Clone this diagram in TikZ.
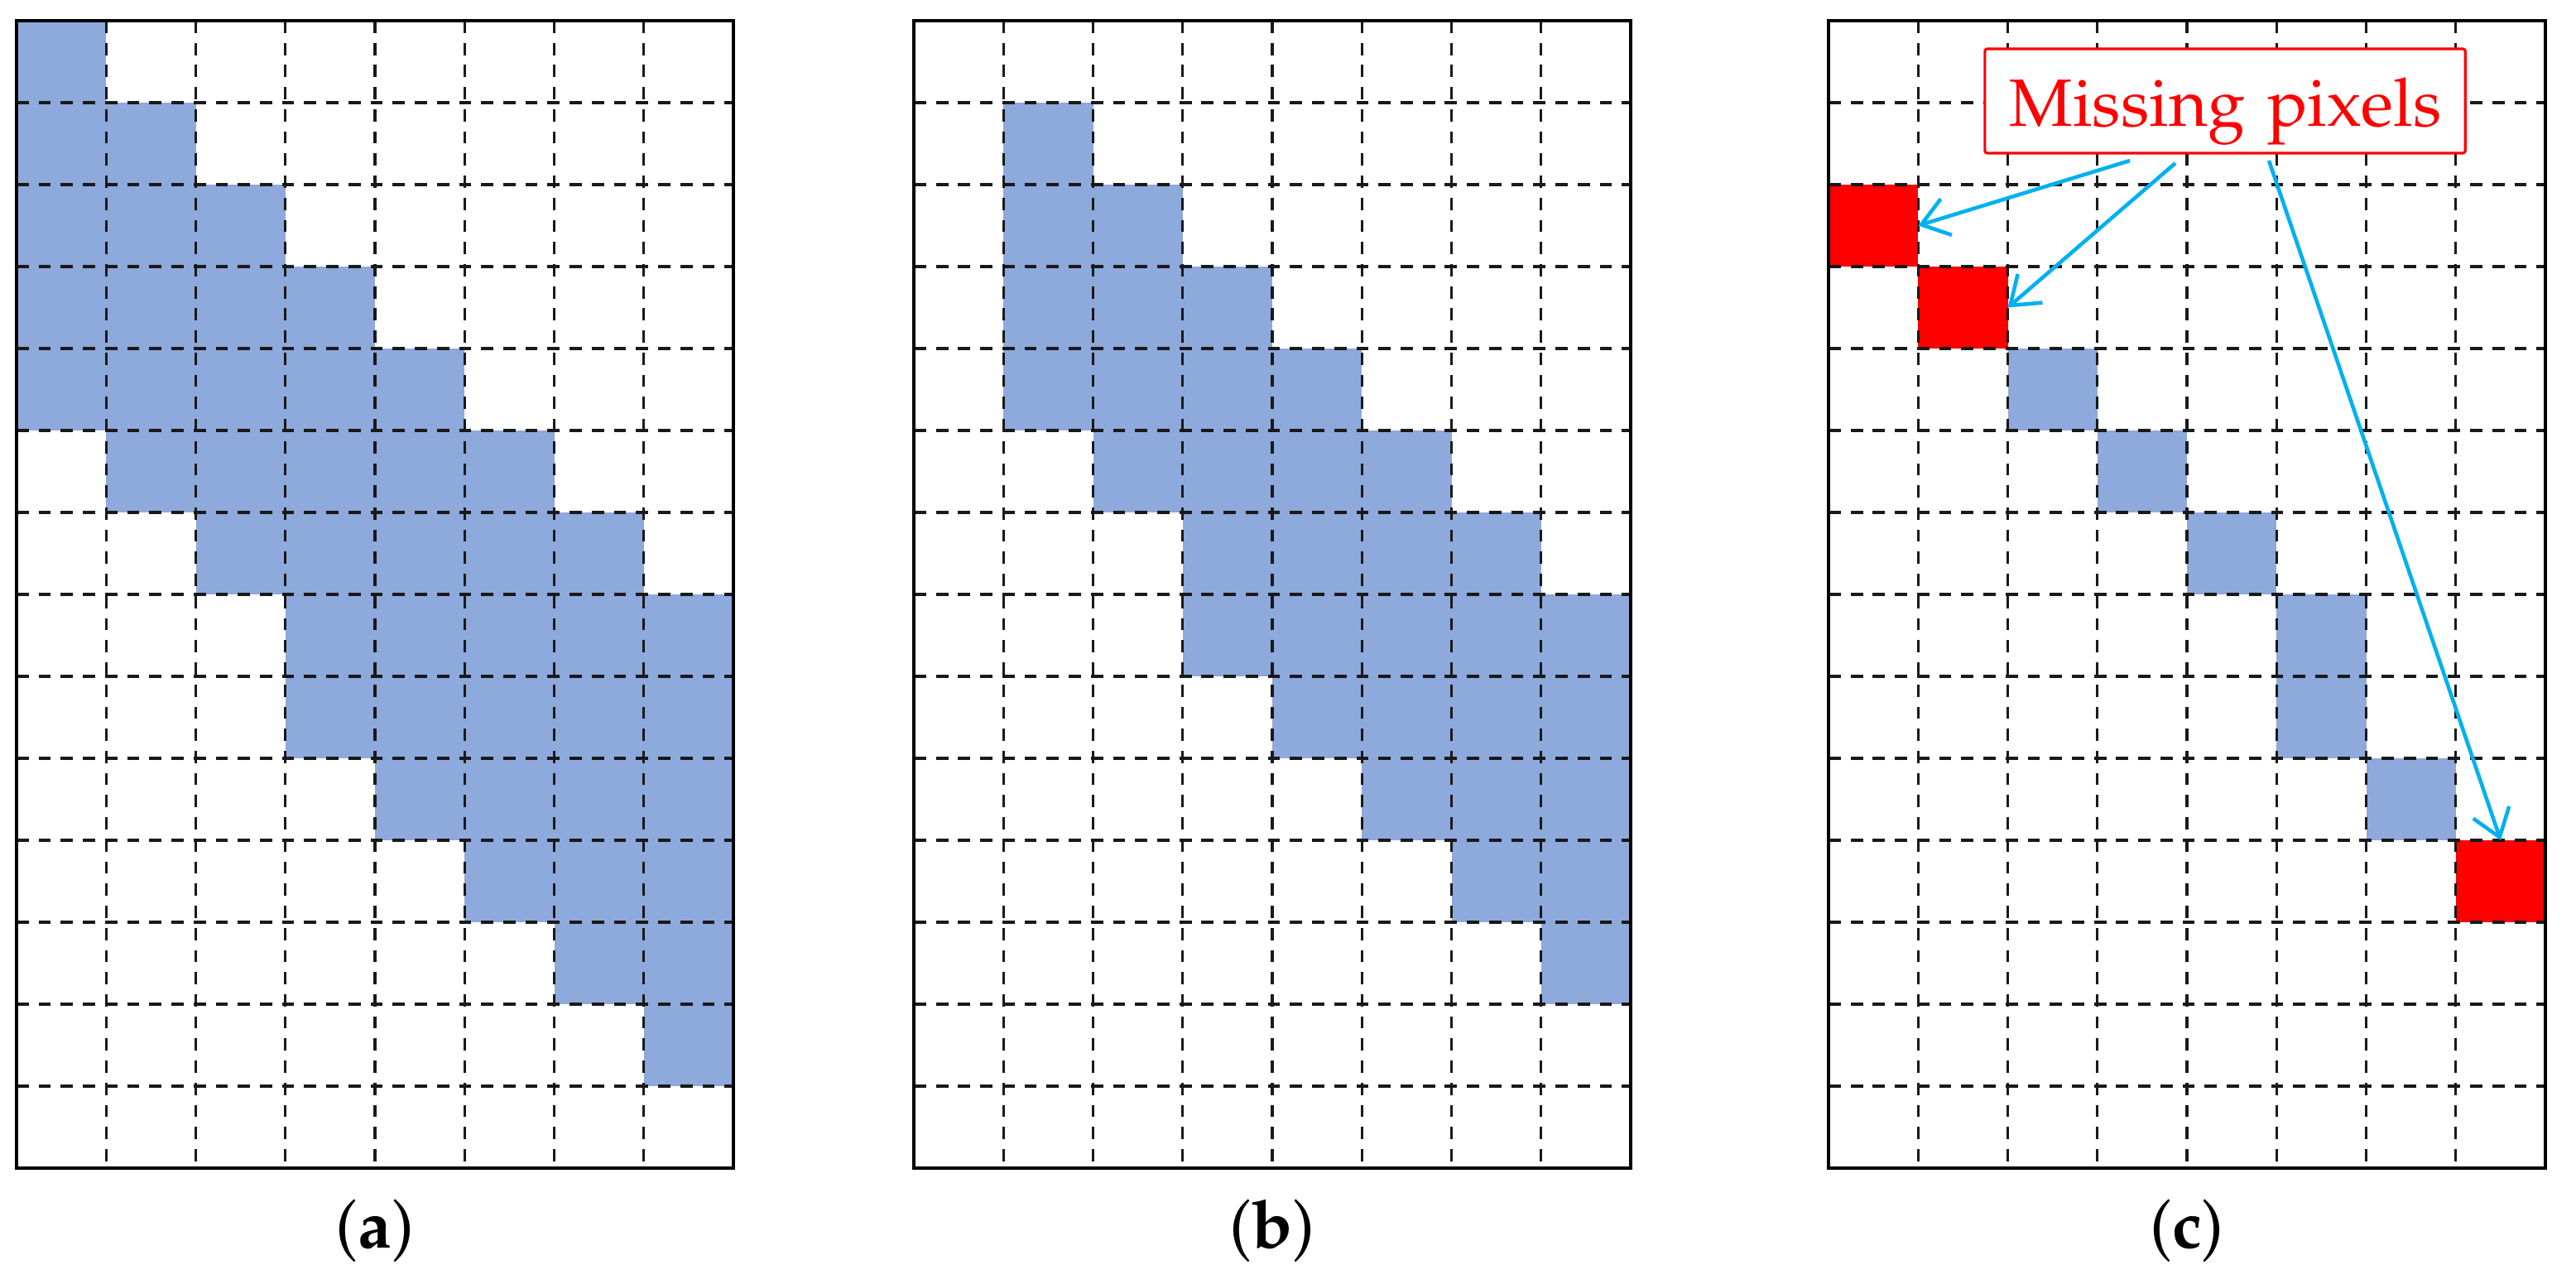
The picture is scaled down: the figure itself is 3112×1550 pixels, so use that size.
\documentclass[tikz,border=0pt]{standalone}
\usepackage[T1]{fontenc}
\usepackage{mathpazo}
\usetikzlibrary{arrows.meta}
\definecolor{cellblue}{RGB}{142,169,219}
\definecolor{cellred}{RGB}{255,0,0}
\definecolor{arrowcyan}{RGB}{0,176,240}
\tikzset{
  gridline/.style={line width=0.95pt, black!90, dash pattern=on 4.2pt off 3.4pt},
  gridborder/.style={line width=1.15pt, black},
  bluecell/.style={fill=cellblue},
  redcell/.style={fill=cellred, draw=none, inner sep=0pt, outer sep=0pt,
    minimum width=1.0825cm, minimum height=0.99cm},
  lblbox/.style={draw=red, fill=white, line width=0.9pt, rounded corners=0.8pt,
    text=red, inner xsep=0.3cm, inner ysep=0pt, text width=5.2cm, align=left,
    text height=26.7pt, text depth=9.1pt, font=\fontsize{23}{28}\selectfont},
  missarrow/.style={arrowcyan, line width=1.3pt, -{Straight Barb[length=9pt,width=13pt]}},
  sublabel/.style={font=\fontsize{23}{28}\selectfont, inner sep=0pt}
}
\newcommand\pixgrid[1]{%
  \foreach \i in {1,...,7} {\draw[gridline] ({#1+\i*108.25},25) -- ({#1+\i*108.25},1411);}
  \foreach \j in {1,...,13} {\draw[gridline] (#1,{25+\j*99}) -- ({#1+866},{25+\j*99});}
  \draw[gridborder] (#1,25) rectangle ({#1+866},1411);
}
\newcommand\rowfill[4]{\fill[bluecell] ({#1+#3*108.25},{25+#2*99}) rectangle ({#1+(#4+1)*108.25},{25+(#2+1)*99});}
\begin{document}
\begin{tikzpicture}[x=0.01cm, y=-0.01cm]
\useasboundingbox (0,0) rectangle (3112,1550);
% (a)
\foreach \r/\a/\b in {0/0/0,1/0/1,2/0/2,3/0/3,4/0/4,5/1/5,6/2/6,7/3/7,8/3/7,9/4/7,10/5/7,11/6/7,12/7/7}
  {\rowfill{20}{\r}{\a}{\b}}
\pixgrid{20}
% (b)
\foreach \r/\a/\b in {1/1/1,2/1/2,3/1/3,4/1/4,5/2/5,6/3/6,7/3/7,8/4/7,9/5/7,10/6/7,11/7/7}
  {\rowfill{1104}{\r}{\a}{\b}}
\pixgrid{1104}
% (c)
\foreach \r/\a/\b in {4/2/2,5/3/3,6/4/4,7/5/5,8/5/5,9/6/6}
  {\rowfill{2209}{\r}{\a}{\b}}
\node[redcell] (m1) at (2263.1,272.5) {};
\node[redcell] (m2) at (2371.4,371.5) {};
\node[redcell] (m3) at (3021.0,1064.5) {};
\pixgrid{2209}
% label box and arrows
\node[lblbox] (lbl) at (2688,122) {\mbox{Missing pixels}};
\coordinate (s1) at (2573,194);
\coordinate (s2) at (2628,197);
\coordinate (s3) at (2741,194);
\draw[missarrow] (s1) -- (m1.east);
\draw[missarrow] (s2) -- (m2.east);
\draw[missarrow] (s3) -- (m3.north);
% sub-labels
\node[sublabel] (la) at (453,1487) {(\textbf{a})};
\node[sublabel] (lb) at (1537,1487) {(\textbf{b})};
\node[sublabel] (lc) at (2642,1487) {(\textbf{c})};
\end{tikzpicture}
\end{document}
